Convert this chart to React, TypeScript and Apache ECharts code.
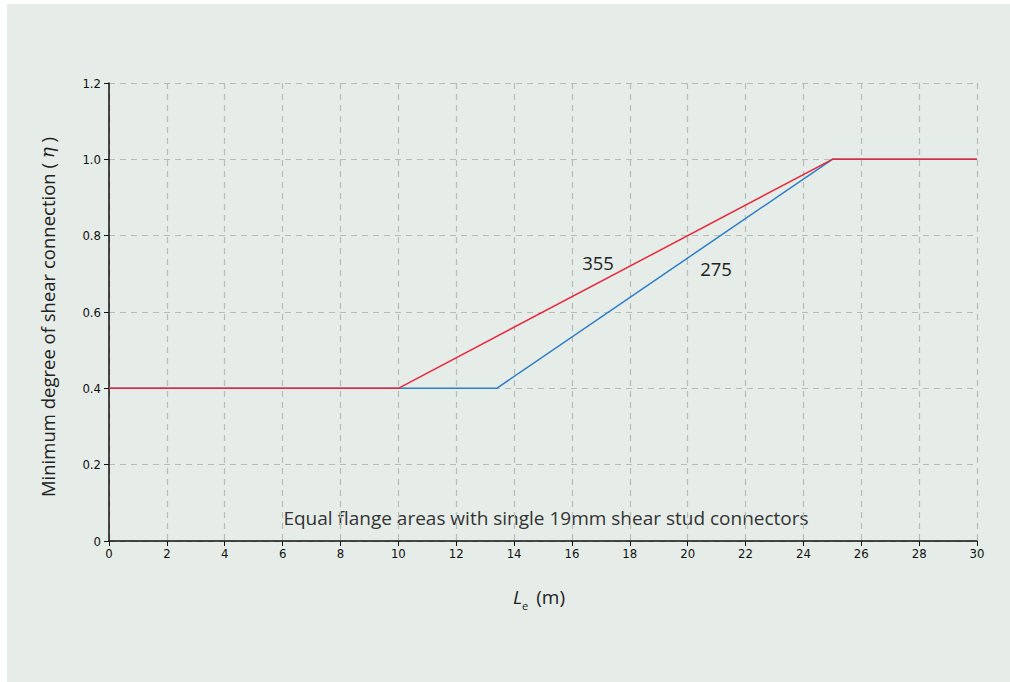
import React, { useEffect, useRef } from "react";
import * as echarts from "echarts";

const xTicks = [0, 2, 4, 6, 8, 10, 12, 14, 16, 18, 20, 22, 24, 26, 28, 30];
const yTicks = [0, 0.2, 0.4, 0.6, 0.8, 1.0, 1.2];
const steel355: [number, number][] = [
  [0, 0.4],
  [10, 0.4],
  [25, 1.0],
  [30, 1.0],
];
const steel275: [number, number][] = [
  [0, 0.4],
  [13.4, 0.4],
  [25, 1.0],
  [30, 1.0],
];
const yAxisTitle = "Minimum degree of shear connection";
const noteText = "Equal flange areas with single 19mm shear stud connectors";

export default function App() {
  const ref = useRef<HTMLDivElement>(null);
  useEffect(() => {
    if (!ref.current) return;
    const chart = echarts.init(ref.current, undefined, { renderer: "svg" });
    const tickFont = "'Liberation Sans Narrow', 'DejaVu Sans Condensed', sans-serif";
    const mainFont = "'Open Sans', 'Noto Sans', sans-serif";
    chart.setOption({
      animation: false,
      backgroundColor: "transparent",
      grid: { left: 109, right: 33, top: 83, bottom: 141, containLabel: false },
      xAxis: {
        type: "value",
        min: xTicks[0],
        max: xTicks[xTicks.length - 1],
        interval: 2,
        axisLine: { show: true, lineStyle: { color: "#111", width: 1.5 } },
        axisTick: { show: true, length: 5, lineStyle: { color: "#111" } },
        axisLabel: {
          color: "#111",
          fontFamily: tickFont,
          fontSize: 13,
          margin: 6,
        },
        splitLine: {
          show: true,
          lineStyle: { color: "#b8bcb9", type: [6, 5], width: 1.2 },
        },
      },
      yAxis: {
        type: "value",
        min: yTicks[0],
        max: yTicks[yTicks.length - 1],
        interval: 0.2,
        axisLine: { show: true, lineStyle: { color: "#111", width: 1.5 } },
        axisTick: { show: true, length: 5, lineStyle: { color: "#111" } },
        axisLabel: {
          color: "#111",
          fontFamily: tickFont,
          fontSize: 13,
          margin: 8,
          formatter: (v: number) => (v === 0 ? "0" : v.toFixed(1)),
        },
        splitLine: {
          show: true,
          lineStyle: { color: "#b8bcb9", type: [6, 5], width: 1.2 },
        },
      },
      series: [
        {
          type: "line",
          name: "275",
          data: steel275,
          symbol: "none",
          lineStyle: { color: "#2d7fc6", width: 1.5 },
          z: 2,
        },
        {
          type: "line",
          name: "355",
          data: steel355,
          symbol: "none",
          lineStyle: { color: "#e8283c", width: 1.5 },
          z: 3,
        },
      ],
      graphic: [
        {
          type: "text",
          x: 47,
          y: 317,
          rotation: Math.PI / 2,
          style: {
            text: "{a|" + yAxisTitle + " ( }{b|η}{a| )}",
            align: "center",
            verticalAlign: "middle",
            rich: {
              a: { fontFamily: mainFont, fontSize: 18.5, fill: "#222" },
              b: { fontFamily: "'DejaVu Serif', serif", fontStyle: "italic", fontSize: 18.5, fill: "#222" },
            },
          },
        },
        {
          type: "text",
          x: 539,
          y: 597,
          style: {
            text: "{l|L}{s|e}{a| (m)}",
            align: "center",
            verticalAlign: "middle",
            rich: {
              l: { fontFamily: mainFont, fontStyle: "italic", fontSize: 19, fill: "#222" },
              s: { fontFamily: mainFont, fontSize: 11, fill: "#222", padding: [16, 3, 0, 0] },
              a: { fontFamily: mainFont, fontSize: 19, fill: "#222" },
            },
          },
        },
        {
          type: "text",
          x: 546,
          y: 518,
          style: {
            text: noteText,
            align: "center",
            verticalAlign: "middle",
            fontFamily: mainFont,
            fontSize: 19,
            fill: "#333",
          },
        },
        {
          type: "text",
          x: 598,
          y: 262,
          style: {
            text: "355",
            align: "center",
            verticalAlign: "middle",
            fontFamily: mainFont,
            fontSize: 18.5,
            fill: "#222",
          },
        },
        {
          type: "text",
          x: 716,
          y: 268,
          style: {
            text: "275",
            align: "center",
            verticalAlign: "middle",
            fontFamily: mainFont,
            fontSize: 18.5,
            fill: "#222",
          },
        },
      ],
    });
    return () => chart.dispose();
  }, []);
  return (
    <div style={{ position: "fixed", left: 0, top: 0, width: 1010, height: 682, background: "#ffffff" }}>
      <div
        style={{ position: "absolute", left: 7, top: 4, width: 1003, height: 678, background: "#e6ece8" }}
      />
      <div ref={ref} style={{ position: "absolute", left: 0, top: 0, width: 1010, height: 682 }} />
    </div>
  );
}
